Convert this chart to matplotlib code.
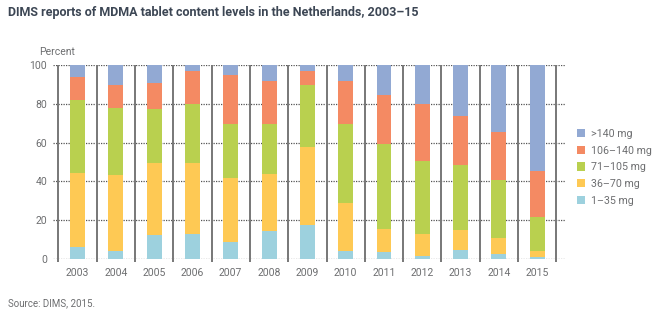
import numpy as np
import matplotlib.pyplot as plt

years = ["2003", "2004", "2005", "2006", "2007", "2008", "2009",
         "2010", "2011", "2012", "2013", "2014", "2015"]

# share of tablets per MDMA content class (percent)
mg_1_35 = [6.3, 4.3, 12.5, 13.2, 9.1, 14.6, 17.6, 4.3, 3.9, 1.9, 5.0, 2.9, 1.2]
mg_36_70 = [38.0, 39.0, 37.0, 36.3, 32.9, 29.4, 40.1, 24.6, 11.7, 11.3, 10.2, 8.2, 3.1]
mg_71_105 = [37.5, 34.4, 27.7, 30.5, 27.7, 25.7, 31.9, 40.8, 43.8, 37.3, 33.3, 29.8, 17.4]
mg_106_140 = [11.9, 11.9, 13.4, 16.7, 25.0, 21.9, 7.1, 21.9, 25.0, 29.5, 25.3, 24.7, 23.7]
mg_over_140 = [6.3, 10.4, 9.4, 3.3, 5.3, 8.4, 3.3, 8.4, 15.6, 20.0, 26.2, 34.4, 54.6]

series = [
    ("1–35 mg", mg_1_35, "#9dd1de"),
    ("36–70 mg", mg_36_70, "#fec954"),
    ("71–105 mg", mg_71_105, "#b9d04f"),
    ("106–140 mg", mg_106_140, "#f48a63"),
    (">140 mg", mg_over_140, "#92a9d3"),
]

text_grey = "#6d6e70"
plt.rcParams["font.family"] = ["Roboto", "DejaVu Sans"]

fig = plt.figure(figsize=(6.58, 3.28), dpi=100)
ax = fig.add_axes([0.0799, 0.2095, 0.7803, 0.5933])

x = np.arange(len(years))
bottom = np.zeros(len(years))
handles = []
for label, vals, color in series:
    b = ax.bar(x, vals, width=0.39, bottom=bottom, color=color, label=label, zorder=3)
    handles.append(b)
    bottom += np.array(vals)

# dotted horizontal grid and solid category separators
for yv in range(0, 101, 20):
    ax.axhline(yv, color="#555555", linestyle=(0, (1, 1)), linewidth=0.9, zorder=1)
ax.vlines(np.arange(-0.5, len(years)), -1.2, 100, color="#777777",
          linewidth=1.4, zorder=2, clip_on=False)

ax.set_xlim(-0.65, 12.75)
ax.set_ylim(0, 100)
ax.set_yticks(range(0, 101, 20))
ax.set_xticks(x)
ax.set_xticklabels(years)
ax.tick_params(length=0, labelsize=7.5, colors=text_grey)
ax.tick_params(axis="y", pad=4)
ax.tick_params(axis="x", pad=6)
for s in ax.spines.values():
    s.set_visible(False)

ax.text(-1.0, 104, "Percent", fontsize=7.5, color=text_grey, ha="left", va="bottom")

fig.text(0.012, 0.962, "DIMS reports of MDMA tablet content levels in the Netherlands, 2003–15",
         fontsize=9, fontweight="bold", color="#3c4654", ha="left", va="center")
fig.text(0.012, 0.075, "Source: DIMS, 2015.", fontsize=7, color=text_grey,
         ha="left", va="center")

leg = fig.legend(handles[::-1], [s[0] for s in series][::-1],
                 loc="center left", bbox_to_anchor=(0.862, 0.49), frameon=False,
                 fontsize=7.7, handlelength=0.8, handleheight=0.8,
                 labelspacing=0.62, handletextpad=0.55)
for t in leg.get_texts():
    t.set_color(text_grey)

fig.savefig("out.png", dpi=100)
